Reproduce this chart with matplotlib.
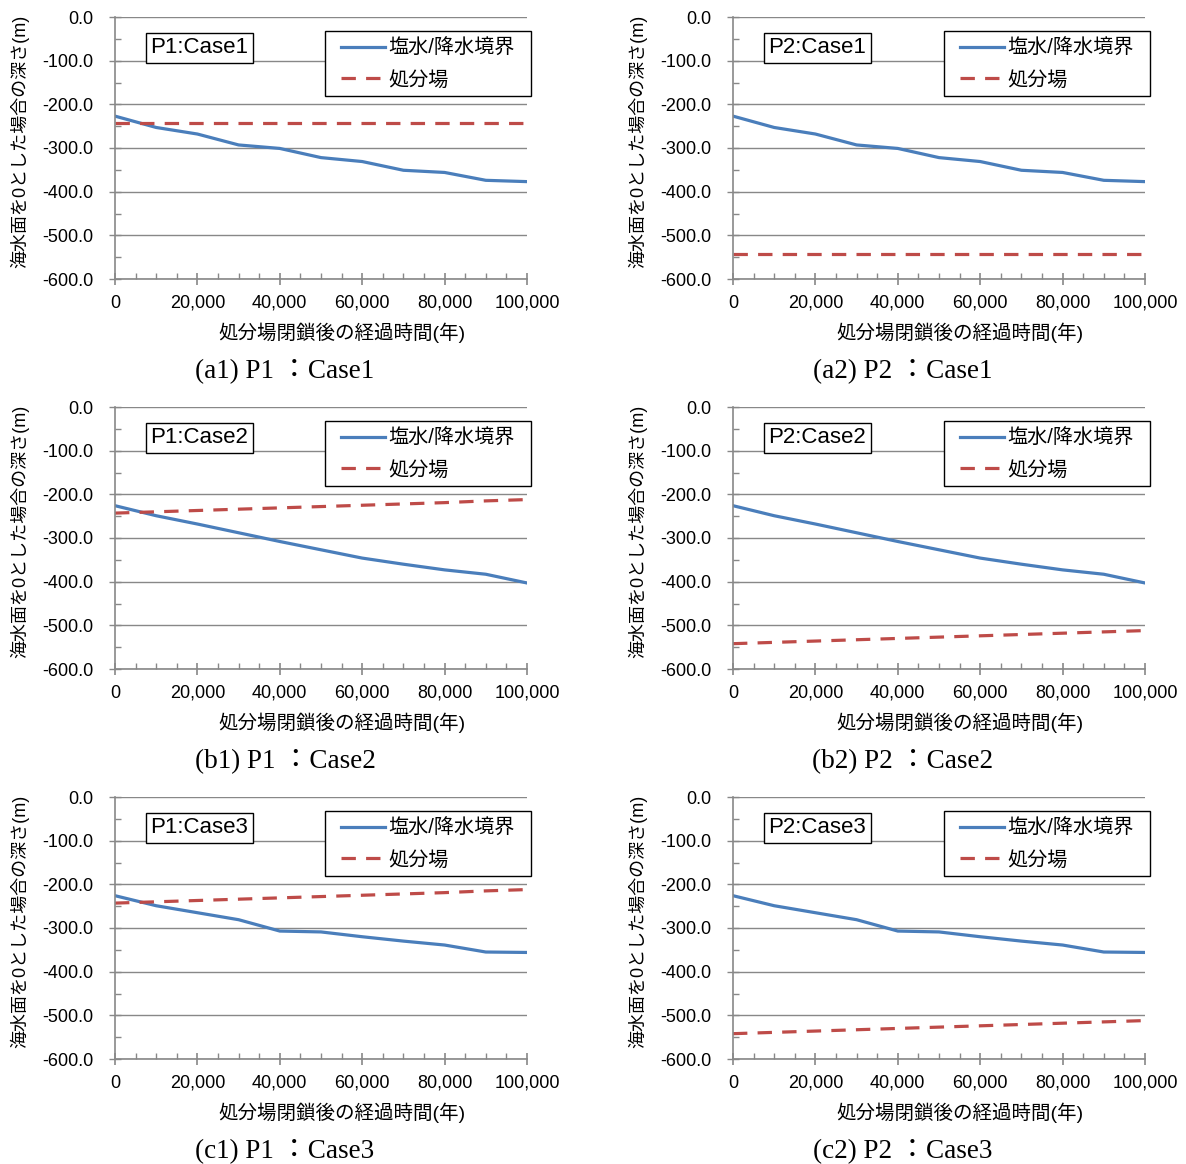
import matplotlib
matplotlib.use("Agg")
import matplotlib.pyplot as plt
from matplotlib.ticker import MultipleLocator, FuncFormatter
from matplotlib.patches import Rectangle

plt.rcParams['font.family'] = ['Liberation Sans', 'Noto Sans CJK JP']
plt.rcParams['axes.unicode_minus'] = False

# ---- data ----
years = [0, 10000, 20000, 30000, 40000, 50000, 60000, 70000, 80000, 90000, 100000]

interface_case1 = [-227, -253, -268, -293, -301, -322, -331, -351, -356, -374, -377]
interface_case2 = [-226, -249, -268, -288, -308, -327, -346, -360, -373, -383, -403]
interface_case3 = [-226, -249, -265, -281, -307, -309, -320, -330, -339, -355, -356]

p1_repo_case1 = [-243, -243, -243, -243, -243, -243, -243, -243, -243, -243, -243]
p1_repo_case23 = [-243, -240, -237, -234, -231, -228, -225, -222, -219, -215, -212]
p2_repo_case1 = [-542, -542, -542, -542, -542, -542, -542, -542, -542, -542, -542]
p2_repo_case23 = [-542, -539, -536, -533, -530, -527, -524, -521, -518, -515, -512]

panel_titles = ["P1:Case1", "P2:Case1", "P1:Case2", "P2:Case2", "P1:Case3", "P2:Case3"]
captions = ["(a1) P1 ：Case1", "(a2) P2 ：Case1",
            "(b1) P1 ：Case2", "(b2) P2 ：Case2",
            "(c1) P1 ：Case3", "(c2) P2 ：Case3"]
interfaces = [interface_case1, interface_case1, interface_case2, interface_case2,
              interface_case3, interface_case3]
repos = [p1_repo_case1, p2_repo_case1, p1_repo_case23, p2_repo_case23,
         p1_repo_case23, p2_repo_case23]

label_interface = "塩水/降水境界"
label_repo = "処分場"
xlabel = "処分場閉鎖後の経過時間(年)"
ylabel = "海水面を0とした場合の深さ(m)"

W, H = 1186, 1164
fig = plt.figure(figsize=(W / 100, H / 100), dpi=100)

col_left = [115, 733]
row_top = [17, 407, 797]
ax_w, ax_h = 412, 262
legend_text_right = [515, 1134]

blue = "#4A7EBB"
red = "#BE4B48"
grid_c = "#888888"

legends = []
for i in range(6):
    r, c = divmod(i, 2)
    x0, y0 = col_left[c], row_top[r]
    ax = fig.add_axes([x0 / W, 1 - (y0 + ax_h) / H, ax_w / W, ax_h / H])
    ax.plot(years, interfaces[i], color=blue, lw=2.3, label=label_interface)
    ax.plot(years, repos[i], color=red, lw=2.3, dashes=(4.5, 3.2), label=label_repo)
    ax.set_xlim(0, 100000)
    ax.set_ylim(-600, 0)
    ax.xaxis.set_major_locator(MultipleLocator(20000))
    ax.xaxis.set_minor_locator(MultipleLocator(5000))
    ax.yaxis.set_major_locator(MultipleLocator(100))
    ax.yaxis.set_minor_locator(MultipleLocator(50))
    ax.xaxis.set_major_formatter(FuncFormatter(lambda v, p: f"{int(v):,}"))
    ax.yaxis.set_major_formatter(FuncFormatter(lambda v, p: f"{v:.1f}"))
    ax.grid(axis='y', which='major', color=grid_c, lw=1.0)
    ax.set_axisbelow(True)
    for s in ['top', 'right']:
        ax.spines[s].set_visible(False)
    for s in ['left', 'bottom']:
        ax.spines[s].set_color(grid_c)
        ax.spines[s].set_linewidth(1.2)
    ax.tick_params(axis='x', which='major', direction='inout', length=9, width=1.2,
                   color=grid_c, labelsize=13, pad=7)
    ax.tick_params(axis='x', which='minor', direction='in', length=4, width=1.0, color=grid_c)
    ax.tick_params(axis='y', which='major', direction='inout', length=9, width=1.0,
                   color=grid_c, labelsize=13, pad=11)
    ax.tick_params(axis='y', which='minor', direction='in', length=4, width=1.0, color=grid_c)

    # panel title box
    ax.text(0.205, 0.882, panel_titles[i], transform=ax.transAxes, fontsize=16,
            ha='center', va='center',
            bbox=dict(boxstyle='square,pad=0.22', fc='white', ec='black', lw=1.0))

    # legend (frame drawn separately for asymmetric padding)
    leg = fig.legend(handles=ax.get_lines(), loc='upper right',
                     bbox_to_anchor=(legend_text_right[c] / W, 1 - (y0 + 22) / H),
                     fontsize=14.5, frameon=False, handlelength=2.15,
                     labelspacing=0.62, borderpad=0, handletextpad=0.2,
                     borderaxespad=0)
    legends.append((leg, y0))

    # axis labels
    fig.text((x0 + ax_w / 2 + 21) / W, 1 - (y0 + 316) / H, xlabel, fontsize=14,
             ha='center', va='center')
    fig.text((x0 - 95) / W, 1 - (y0 + 124) / H, ylabel, fontsize=13,
             ha='center', va='center', rotation=90)
    # caption
    fig.text((x0 + ax_w / 2 - 36) / W, 1 - (y0 + 355) / H, captions[i], fontsize=19.5,
             ha='center', va='center', family=['Liberation Serif', 'Noto Sans CJK JP'])

fig.canvas.draw()
renderer = fig.canvas.get_renderer()
for leg, y0 in legends:
    bb = leg.get_window_extent(renderer)
    left = bb.x0 - 16
    right = bb.x1 + 16
    top_px = y0 + 14          # from figure top
    bottom_px = y0 + 79
    rect = Rectangle((left / W, 1 - bottom_px / H), (right - left) / W,
                     (bottom_px - top_px) / H, transform=fig.transFigure,
                     facecolor='white', edgecolor='black', lw=1.0, zorder=4)
    fig.add_artist(rect)
    leg.set_zorder(6)

fig.savefig("out.png", dpi=100)
